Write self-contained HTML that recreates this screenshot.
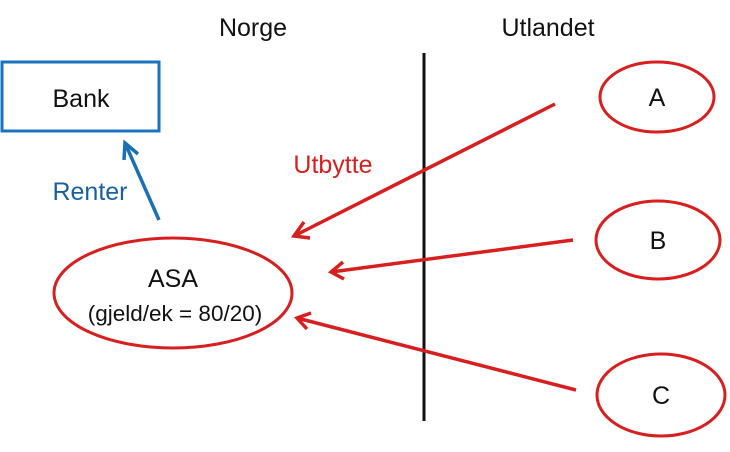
<!DOCTYPE html>
<html><head><meta charset="utf-8"><style>
html,body{margin:0;padding:0;background:#fff;}
svg{display:block;}
text{font-family:"Liberation Sans",Arial,sans-serif;}
</style></head><body>
<svg width="730" height="452" viewBox="0 0 730 452" xmlns="http://www.w3.org/2000/svg">
<text x="253" y="36" font-size="25" text-anchor="middle" fill="#111">Norge</text>
<text x="548" y="36" font-size="25" text-anchor="middle" fill="#111">Utlandet</text>
<line x1="424" y1="53" x2="424" y2="421" stroke="#111" stroke-width="3"/>
<rect x="2" y="62" width="157" height="69" fill="none" stroke="#1a72c0" stroke-width="3"/>
<text x="81" y="107" font-size="25" text-anchor="middle" fill="#111">Bank</text>
<line x1="159" y1="220" x2="125" y2="143" stroke="#1a6fb5" stroke-width="3.5"/>
<polyline points="124,160 125,143 138,154" fill="none" stroke="#1a6fb5" stroke-width="3.5"/>
<text x="90" y="200" font-size="25" text-anchor="middle" fill="#1a5f9e">Renter</text>
<ellipse cx="173" cy="293" rx="119" ry="55" fill="none" stroke="#d71f1f" stroke-width="3"/>
<text x="173" y="287" font-size="25" text-anchor="middle" fill="#111">ASA</text>
<text x="175" y="321" font-size="22.5" text-anchor="middle" fill="#111">(gjeld/ek = 80/20)</text>
<text x="333" y="173" font-size="25" text-anchor="middle" fill="#d71f1f">Utbytte</text>
<ellipse cx="657" cy="97" rx="57" ry="35" fill="none" stroke="#d71f1f" stroke-width="3"/>
<text x="657" y="106" font-size="25" text-anchor="middle" fill="#111">A</text>
<ellipse cx="658" cy="240" rx="62" ry="39" fill="none" stroke="#d71f1f" stroke-width="3"/>
<text x="658" y="249" font-size="25" text-anchor="middle" fill="#111">B</text>
<ellipse cx="661" cy="395" rx="64" ry="41" fill="none" stroke="#d71f1f" stroke-width="3"/>
<text x="661" y="404" font-size="25" text-anchor="middle" fill="#111">C</text>
<g stroke="#d71f1f" stroke-width="3.5" fill="none">
<line x1="555" y1="104" x2="294" y2="236"/>
<polyline points="304,222 294,236 310,238"/>
<line x1="573" y1="240" x2="331" y2="272"/>
<polyline points="343,262 331,272 344,279"/>
<line x1="576" y1="390" x2="297" y2="318"/>
<polyline points="311,313 297,318 307,329"/>
</g>
</svg>
</body></html>
